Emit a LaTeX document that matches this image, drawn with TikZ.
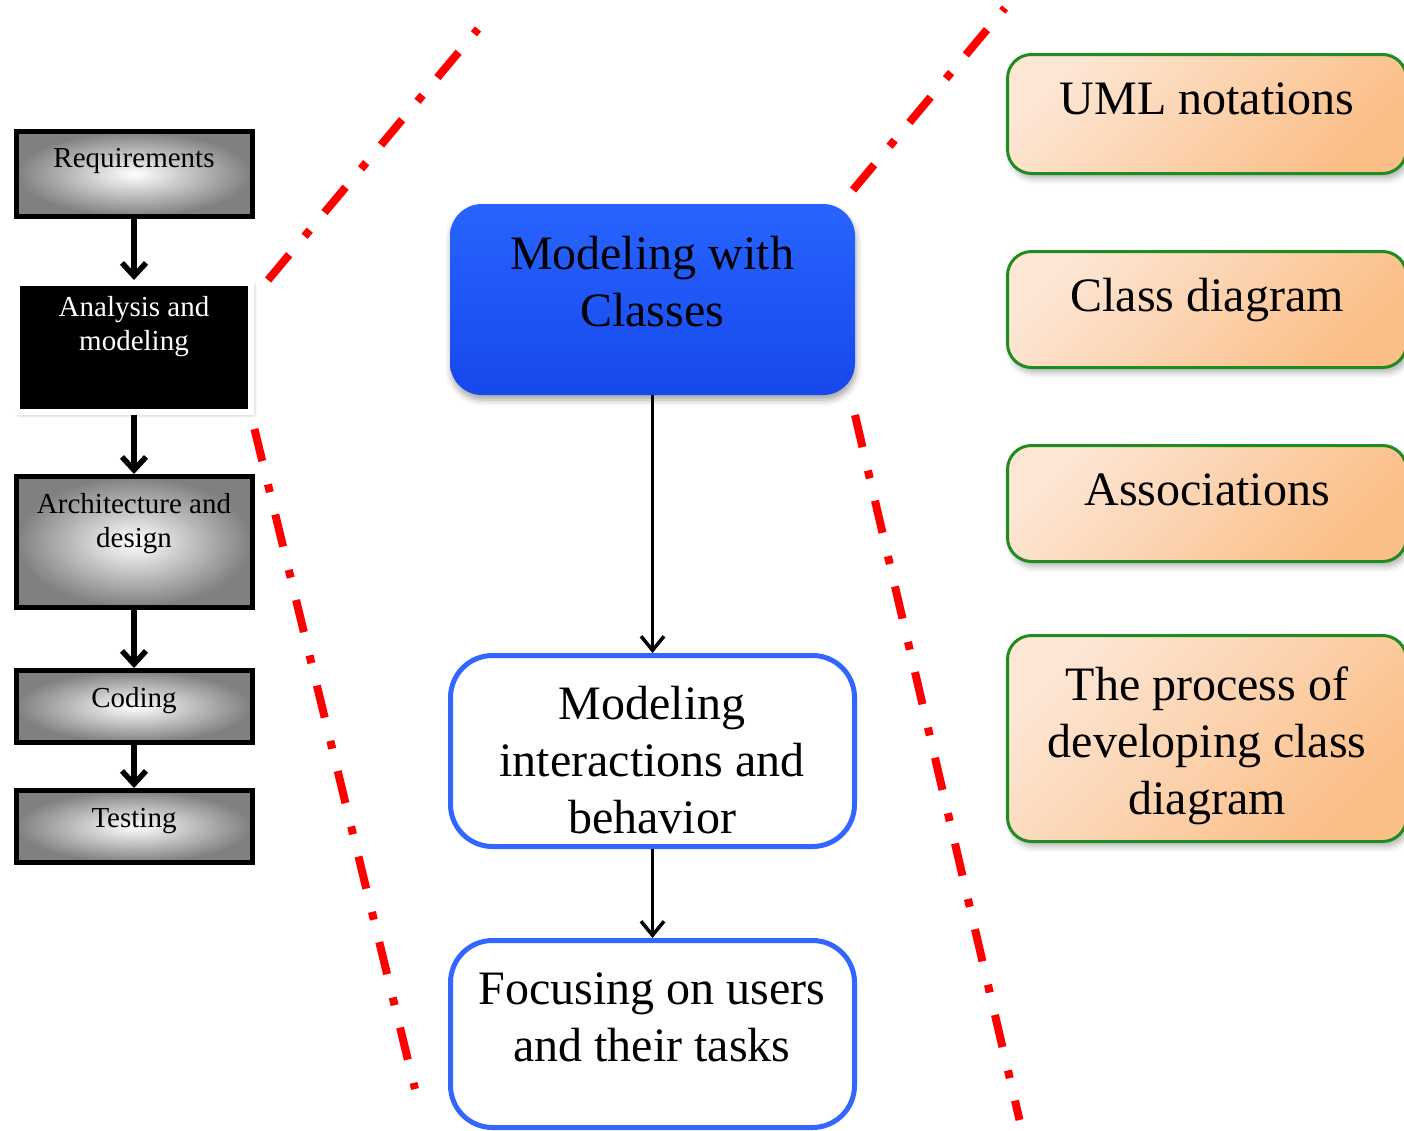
\documentclass[tikz,border=0pt]{standalone}
\usepackage{fontspec}
\setmainfont{Liberation Serif}
\usetikzlibrary{arrows.meta,shadows.blur}
\definecolor{peachlight}{RGB}{253,230,212}
\definecolor{peachdark}{RGB}{251,190,135}
\definecolor{boxgreen}{RGB}{30,140,30}
\definecolor{bluetop}{RGB}{40,100,255}
\definecolor{bluebot}{RGB}{22,72,236}
\definecolor{blueline}{RGB}{51,102,255}
\begin{document}
\begin{tikzpicture}[x=1pt,y=-1pt]
            \tikzstyle{etape}=[rectangle,draw=black,line width=5pt,inner color=white,outer color=gray,minimum width=236pt]
            \tikzstyle{petit}=[font=\fontsize{29}{34}\selectfont,align=center,inner sep=0pt]
            \tikzstyle{grand}=[font=\fontsize{48}{57}\selectfont,align=center,inner sep=0pt]
            \tikzstyle{bleu}=[rectangle,rounded corners=32pt,top color=bluetop,bottom color=bluebot,minimum width=405pt,minimum height=191pt,blur shadow={shadow xshift=1pt,shadow yshift=-5pt,shadow blur radius=6pt,shadow opacity=35}]
            \tikzstyle{cadre}=[rectangle,rounded corners=42pt,draw=blueline,line width=5pt,fill=white,minimum width=404pt]
            \tikzstyle{peche}=[rectangle,rounded corners=24pt,draw=boxgreen,line width=3pt,top color=peachlight,bottom color=peachdark,shading angle=45,minimum width=399pt,blur shadow={shadow xshift=3pt,shadow yshift=-5pt,shadow blur radius=6pt,shadow opacity=30}]
            \tikzstyle{fleche}=[-{Straight Barb[length=13pt,width=24pt]},line width=5.5pt]
            \tikzstyle{flechefine}=[-{Straight Barb[length=14pt,width=23pt]},line width=3.5pt]
            \tikzstyle{coupe}=[red,line width=8pt,dash pattern=on 33pt off 24pt on 8pt off 23pt]
            \useasboundingbox (0,0) rectangle (1404,1130);
            \clip (0,0) rectangle (1404,1130);
            \node[etape,minimum height=85pt] (req) at (134,174) {};
            \node[rectangle,draw=white,line width=6pt,fill=black,minimum width=234pt,minimum height=129pt,blur shadow={shadow xshift=2pt,shadow yshift=-2pt,shadow blur radius=4pt,shadow opacity=40}] (ana) at (134,347.5) {};
            \node[etape,minimum height=131pt] (arc) at (134,542) {};
            \node[etape,minimum height=72pt] (cod) at (134,706.5) {};
            \node[etape,minimum height=72pt] (tst) at (134,826.5) {};
            \node[petit] (treq) at (134,161) {Requirements};
            \node[petit,text=white] (tana) at (134,327) {Analysis and\\modeling};
            \node[petit] (tarc) at (134,524) {Architecture and\\design};
            \node[petit] (tcod) at (134,701) {Coding};
            \node[petit] (ttst) at (134,821) {Testing};
            \draw[fleche] (req) -- (ana);
            \draw[fleche] (ana) -- (arc);
            \draw[fleche] (arc) -- (cod);
            \draw[fleche] (cod) -- (tst);
            \node[bleu] (cla) at (652.5,299.5) {};
            \node[cadre,minimum height=191pt] (int) at (652.5,751) {};
            \node[cadre,minimum height=187pt] (usr) at (652.5,1034) {};
            \node[grand] (tcla) at (652,282) {Modeling with\\Classes};
            \node[grand] (tint) at (652,760) {Modeling\\interactions and\\behavior};
            \node[grand] (tusr) at (652,1017) {Focusing on users\\and their tasks};
            \draw[flechefine] (cla) -- (int);
            \draw[flechefine] (int) -- (usr);
            \node[peche,minimum height=119pt] (uml) at (1207,114) {};
            \node[peche,minimum height=116pt] (cd) at (1207,309.5) {};
            \node[peche,minimum height=116pt] (ass) at (1207,503.5) {};
            \node[peche,minimum height=206pt] (proc) at (1207,738.5) {};
            \node[grand] (tuml) at (1207,99) {UML notations};
            \node[grand] (tcd) at (1207,300) {Class diagram};
            \node[grand] (tass) at (1207,490) {Associations};
            \node[grand] (tproc) at (1207,746) {The process of\\developing class\\diagram};
            \coordinate (a1) at (268,280);
            \coordinate (a2) at (478,29);
            \coordinate (b1) at (254.5,429);
            \coordinate (b2) at (415,1089);
            \coordinate (c1) at (853,190);
            \coordinate (c2) at (1005,8);
            \coordinate (d1) at (855,415);
            \coordinate (d2) at (1019.5,1120);
            \draw[coupe] (a1) -- (a2);
            \draw[coupe] (b1) -- (b2);
            \draw[coupe] (c1) -- (c2);
            \draw[coupe] (d1) -- (d2);
        \end{tikzpicture}
\end{document}
